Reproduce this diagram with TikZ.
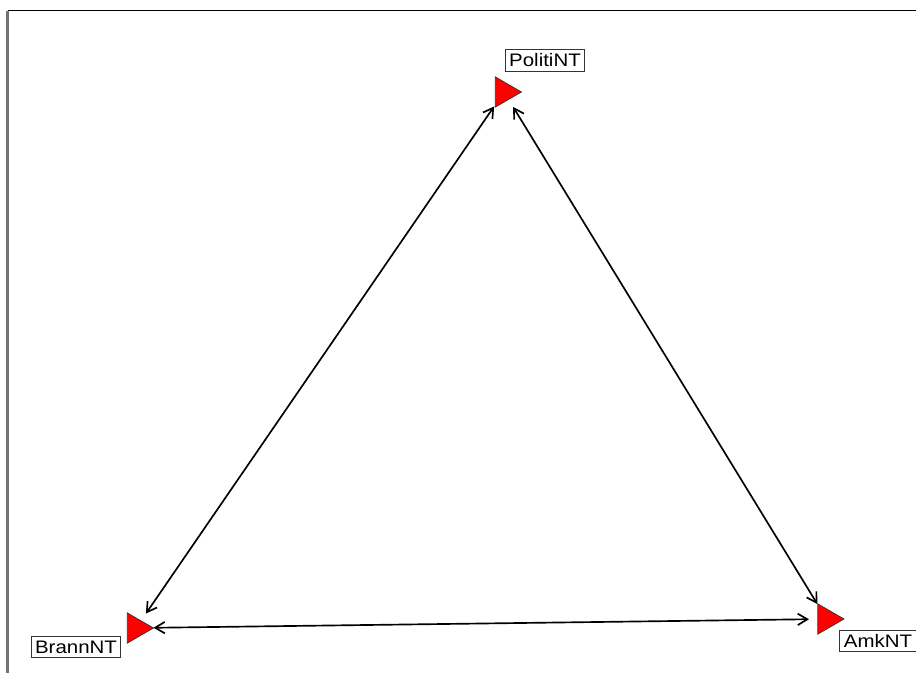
\documentclass[tikz,border=0pt]{standalone}
\usepackage{fontspec}
\setmainfont{Liberation Sans}
\usetikzlibrary{shapes.geometric,arrows.meta}

\begin{document}
\begin{tikzpicture}[x=0.02cm, y=-0.02cm,
        actor/.style={regular polygon, regular polygon sides=3, shape border rotate=-90,
            fill=red, draw=black!80, line width=0.4pt, inner sep=0pt, outer sep=0pt, minimum size=0.7cm},
        tag/.style={draw=black!80, fill=white, line width=0.6pt, font=\fontsize{10.3}{11}\selectfont,
            inner xsep=2pt, inner ysep=2.3pt, xscale=1.13, transform shape},
        tie/.style={{Straight Barb[length=5.5pt,width=6.5pt]}-{Straight Barb[length=5.5pt,width=6.5pt]},
            line width=0.95pt, shorten <=0.35cm, shorten >=0.35cm}]
        \useasboundingbox (0,0) rectangle (916,673);
        % frame of the plot area
        \draw[black!55, line width=1.2pt] (7.5,673) -- (7.5,10.5);
        \draw[black, line width=0.8pt] (7.5,10.5) -- (916,10.5);
        % actors
        \node[actor] (politi) at (504,92) {};
        \node[actor] (brann) at (136,628) {};
        \node[actor] (amk) at (826.5,619) {};
        % ties
        \draw[tie] (politi.center) -- (brann.center);
        \draw[tie] (politi.center) -- (amk.center);
        \draw[tie] (brann.center) -- (amk.center);
        % labels
        \node[tag] (politilab) at (545,60.5) {PolitiNT};
        \node[tag] (brannlab) at (76,647) {BrannNT};
        \node[tag] (amklab) at (878,641) {AmkNT};
    \end{tikzpicture}
\end{document}
